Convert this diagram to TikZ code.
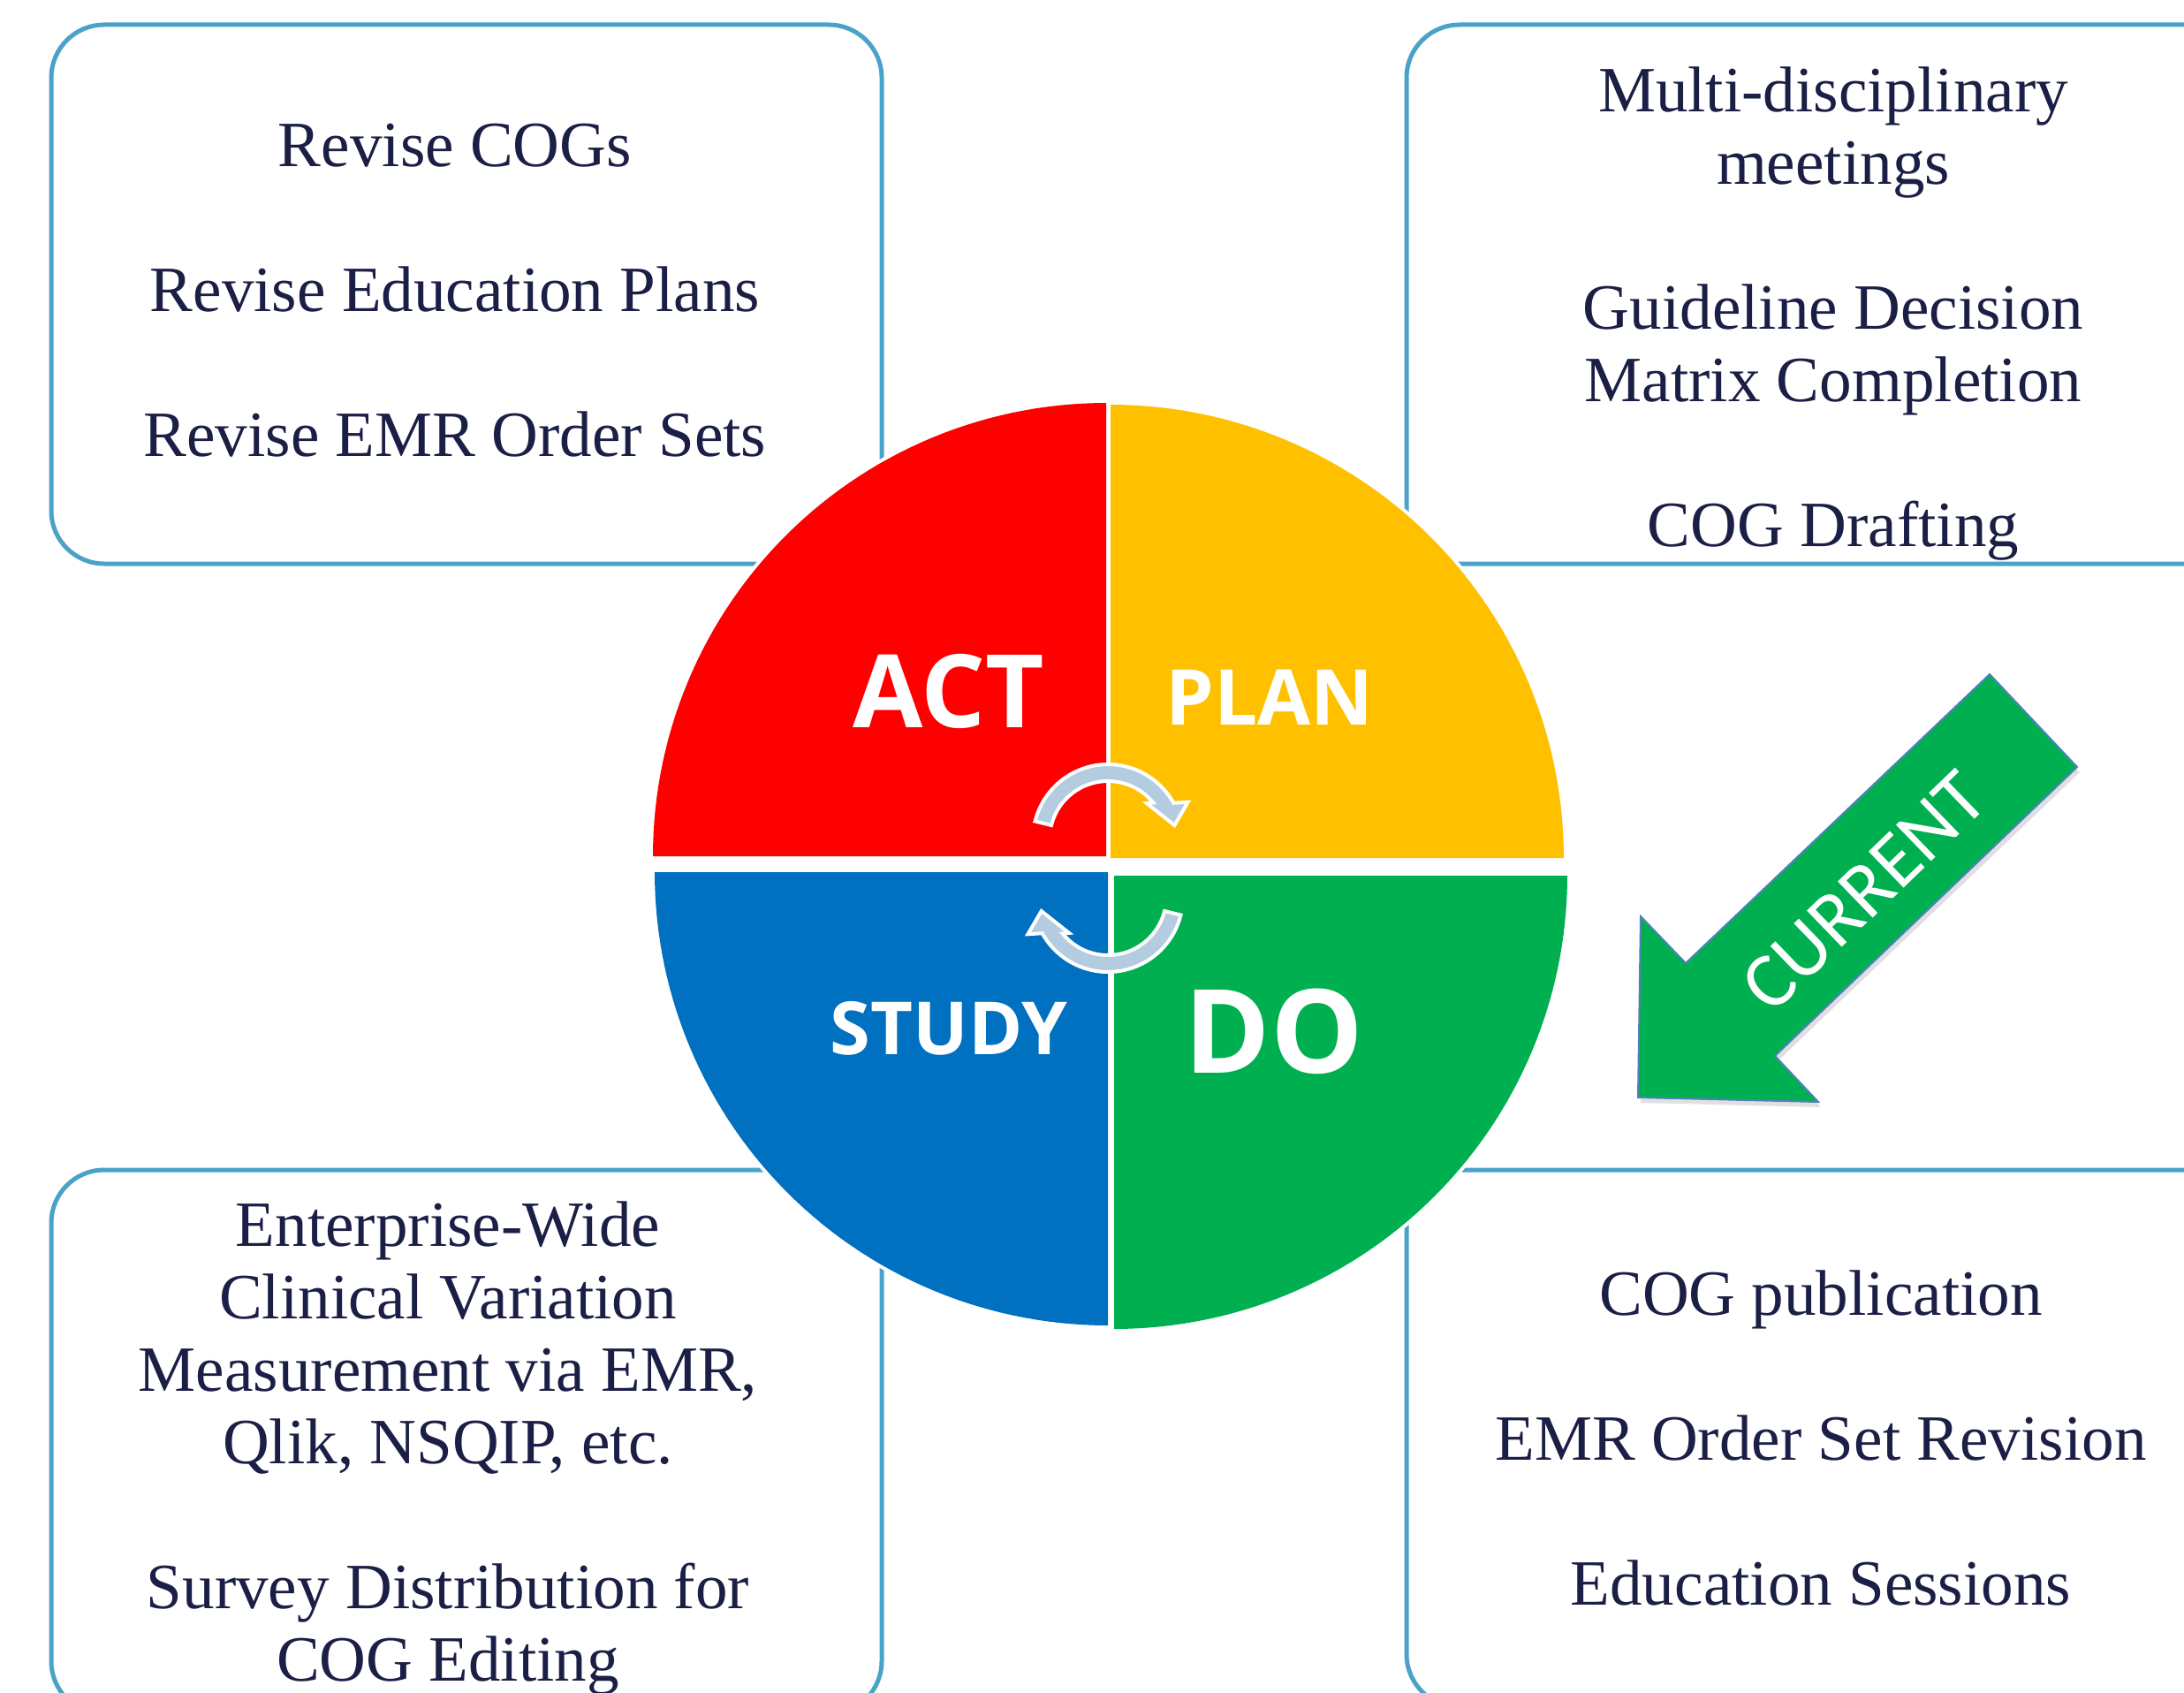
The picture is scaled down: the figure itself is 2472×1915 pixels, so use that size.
\documentclass[tikz,border=0pt]{standalone}
\usepackage{fontspec}
\setmainfont{Liberation Serif}
\newfontfamily\phasefont{Open Sans}
\newfontfamily\currentfont{Carlito}
\usetikzlibrary{positioning}

\definecolor{actred}{RGB}{255,0,0}
\definecolor{planyellow}{RGB}{255,192,0}
\definecolor{studyblue}{RGB}{0,112,192}
\definecolor{dogreen}{RGB}{0,176,80}
\definecolor{boxline}{RGB}{75,162,200}
\definecolor{boxtext}{RGB}{27,31,70}
\definecolor{turnfill}{RGB}{180,204,223}
\definecolor{currentline}{RGB}{79,129,189}

\tikzstyle{taskbox}=[
	draw=boxline,
	line width=0.5mm,
	rounded corners=6mm
]
\tikzstyle{tasks}=[
	text=boxtext,
	align=center,
	inner sep=0pt,
	anchor=base,
	font=\fontsize{20.8pt}{23.3pt}\selectfont
]
\tikzstyle{halo}=[
	draw=white,
	line width=0.8mm
]
\tikzstyle{phase}=[
	text=white,
	inner sep=0pt,
	anchor=base
]
\tikzstyle{turnarrow}=[
	fill=turnfill,
	draw=white,
	line width=0.4mm,
	line join=miter
]
\tikzstyle{currentarrow}=[
	fill=dogreen,
	draw=currentline,
	line width=0.2mm,
	line join=miter
]

\tikzset{
	pics/turn/.style={code={
		\draw[turnarrow] plot[domain=-166:-29,samples=40] (\x:85) -- (-25:100) -- (-12:77)
			-- (-43:60) -- (-39:66) -- plot[domain=-39:-166,samples=40] (\x:66) -- cycle;
	}}
}

\begin{document}
\begin{tikzpicture}[x=0.1mm,y=-0.1mm]
\useasboundingbox (0,0) rectangle (2472,1915);
\fill[white] (0,0) rectangle (2472,1915);
\clip (0,0) rectangle (2472,1915);

% task boxes, text placed at the baseline of its last line
\draw[taskbox] (58,28) rectangle (998,638);
\draw[taskbox] (1592,28) rectangle (2560,638);
\draw[taskbox] (58,1324) rectangle (998,1940);
\draw[taskbox] (1592,1324) rectangle (2560,1932);

\node[tasks] (acttasks) at (515,516) {Revise COGs\\[23.3pt]Revise Education Plans\\[23.3pt]Revise EMR Order Sets};
\node[tasks] (plantasks) at (2075,618) {Multi-disciplinary\\meetings\\[23.3pt]Guideline Decision\\Matrix Completion\\[23.3pt]COG Drafting};
\node[tasks] (studytasks) at (507,1902) {Enterprise-Wide\\Clinical Variation\\Measurement via EMR,\\Qlik, NSQIP, etc.\\[23.3pt]Survey Distribution for\\COG Editing};
\node[tasks] (dotasks) at (2061,1816) {COG publication\\[23.3pt]EMR Order Set Revision\\[23.3pt]Education Sessions};

% PDSA wheel
\coordinate (act) at (1252,969);
\coordinate (plan) at (1257,971);
\coordinate (study) at (1254,987);
\coordinate (do) at (1261,991);

\foreach \corner/\from in {act/180,plan/270,do/0,study/90}
	\draw[halo,shift={(\corner)}] (0,0) -- plot[domain=\from:\from+90,samples=61] (\x:513) -- cycle;
\foreach \corner/\from/\col in {act/180/actred,plan/270/planyellow,do/0/dogreen,study/90/studyblue}
	\fill[\col,shift={(\corner)}] (0,0) -- plot[domain=\from:\from+90,samples=61] (\x:513) -- cycle;

\node[phase,font=\phasefont\bfseries\fontsize{32.7pt}{32.7pt}\selectfont] (actlabel) at (1074,823) {ACT};
\node[phase,font=\phasefont\bfseries\fontsize{24.8pt}{24.8pt}\selectfont] (planlabel) at (1437,820) {PLAN};
\node[phase,font=\phasefont\bfseries\fontsize{23.6pt}{23.6pt}\selectfont] (studylabel) at (1074,1193) {STUDY};
\node[phase,font=\phasefont\bfseries\fontsize{37.5pt}{37.5pt}\selectfont] (dolabel) at (1442,1214) {DO};

\pic at (1254,950) {turn};
\pic[rotate=180] at (1254,1015) {turn};

% current step
\fill[black,opacity=0.12,shift={(3,6)}] (2252,763) -- (2351,868) -- (2009,1195) -- (2058,1247)
	-- (1854,1242) -- (1857,1037) -- (1908,1090) -- cycle;
\draw[currentarrow] (2252,763) -- (2351,868) -- (2009,1195) -- (2058,1247)
	-- (1854,1242) -- (1857,1037) -- (1908,1090) -- cycle;
\node[text=white,rotate=44,inner sep=0pt,font=\currentfont\fontsize{25.3pt}{25.3pt}\selectfont] (current) at (2110,1009) {CURRENT};
\end{tikzpicture}
\end{document}
